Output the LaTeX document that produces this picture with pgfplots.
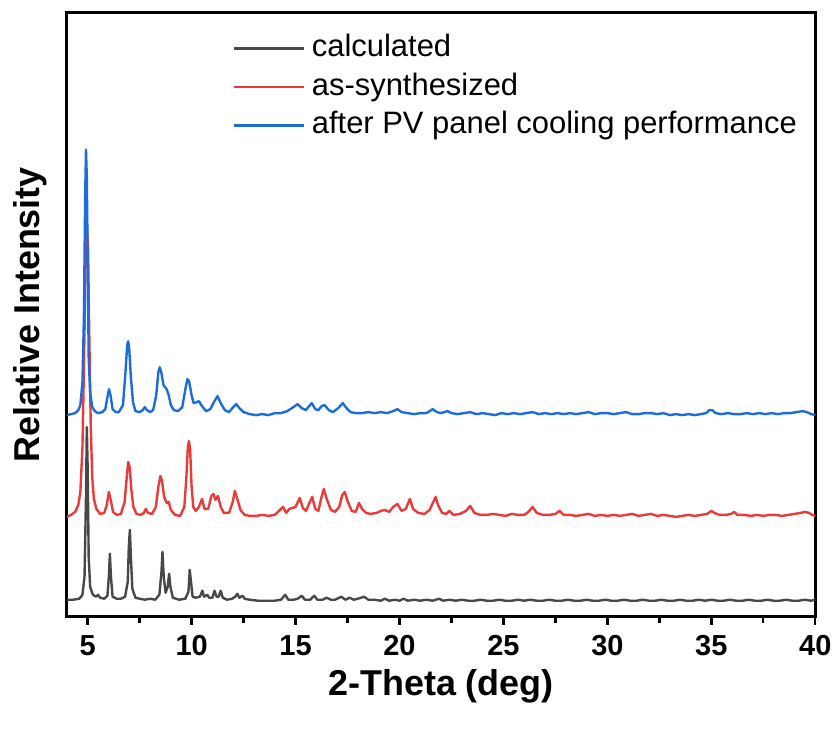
\documentclass[border=0pt]{standalone}
\usepackage{fontspec}
\setmainfont{Liberation Sans}
\usepackage{pgfplots}
\pgfplotsset{compat=1.18}
\definecolor{cgray}{RGB}{72,72,72}
\definecolor{cred}{RGB}{235,58,58}
\definecolor{cblue}{RGB}{28,108,222}
\begin{document}
\begin{tikzpicture}
\begin{axis}[
 scale only axis, width=375pt, height=302.5pt,
 xmin=4, xmax=40, ymin=0, ymax=605,
 xtick={5,10,...,40}, minor xtick={7.5,12.5,...,37.5},
 ytick=\empty,
 xtick pos=bottom, tick align=outside,
 major tick length=4pt, minor tick length=3pt,
 every tick/.style={black, line width=1.2pt},
 axis line style={line width=1.5pt},
 ticklabel style={font=\fontsize{14.5}{17}\selectfont\bfseries},
 xticklabel style={yshift=-2pt},
 /pgf/number format/assume math mode=true,
 xlabel={2-Theta (deg)}, ylabel={Relative Intensity},
 every axis x label/.style={at={(axis description cs:0.5,-0.1306)}, anchor=base, inner sep=0pt, font=\fontsize{18}{21}\selectfont\bfseries},
 every axis y label/.style={at={(axis description cs:-0.036,0.5)}, rotate=90, anchor=base, inner sep=0pt, font=\fontsize{18}{21}\selectfont\bfseries},
 legend style={at={(axis description cs:0.221,0.968)}, anchor=north west, draw=none, fill=none,
   inner sep=0pt, font=\fontsize{15.5}{18}\selectfont, row sep=3.3pt,
   nodes={inner sep=1pt, text height=11pt, text depth=3pt},
   /tikz/every odd column/.style={column sep=2.5pt}},
 legend cell align=left,
 legend image code/.code={\draw[#1, line width=1.2pt] (0pt,0pt) -- (35pt,0pt);},
 every axis plot/.append style={line width=1.2pt, line join=round},
 after end axis/.code={\useasboundingbox (rel axis cs:0,0) ++(-33.5pt,-56.5pt) rectangle ([shift={(10.5pt,6.5pt)}]rel axis cs:1,1);},
]
\addplot[cgray] coordinates {
(4.00,17)(4.30,17)(4.60,18)(4.75,22)(4.85,40)(4.92,120)(4.96,190)(5.00,150)(5.05,60)(5.12,30)
(5.25,22)(5.40,20)(5.50,22)(5.60,19)(5.80,18)(5.95,21)(6.02,40)(6.07,63)(6.12,40)(6.20,20)
(6.40,18)(6.60,18)(6.80,20)(6.93,35)(6.98,70)(7.03,87)(7.08,60)(7.15,28)(7.30,19)(7.50,18)
(7.75,17)(8.00,18)(8.25,17)(8.45,22)(8.55,45)(8.60,65)(8.66,40)(8.75,24)(8.85,30)(8.92,43)
(8.98,30)(9.10,19)(9.40,17)(9.70,18)(9.85,25)(9.91,47)(9.97,35)(10.05,20)(10.20,19)(10.40,20)
(10.52,26)(10.60,20)(10.75,22)(10.85,19)(11.00,19)(11.10,26)(11.20,20)(11.30,20)(11.40,26)(11.50,19)
(11.70,17)(11.95,18)(12.10,20)(12.20,23)(12.30,19)(12.45,21)(12.55,18)(12.80,17)(13.20,16)(13.60,16)
(14.00,16)(14.30,17)(14.50,22)(14.65,17)(14.90,17)(15.10,18)(15.30,21)(15.45,17)(15.70,17)(15.90,21)
(16.05,17)(16.30,17)(16.50,19)(16.70,17)(16.90,17)(17.20,20)(17.40,17)(17.60,19)(17.80,17)(18.00,18)
(18.30,20)(18.50,17)(18.80,17)(19.10,16)(19.30,18)(19.50,16)(19.80,17)(20.00,16)(20.20,18)(20.40,16)
(20.70,17)(21.00,16)(21.30,17)(21.60,16)(21.90,18)(22.10,16)(22.40,17)(22.70,16)(23.00,17)(23.30,16)
(23.60,16)(23.90,17)(24.20,16)(24.50,16)(24.80,17)(25.10,16)(25.40,16)(25.70,17)(26.00,16)(26.30,17)
(26.60,16)(26.90,16)(27.20,17)(27.50,16)(27.80,16)(28.10,17)(28.40,16)(28.70,16)(29.00,17)(29.30,16)
(29.60,16)(29.90,17)(30.20,16)(30.50,16)(30.80,17)(31.10,16)(31.40,16)(31.70,17)(32.00,16)(32.30,16)
(32.60,17)(32.90,16)(33.20,16)(33.50,17)(33.80,16)(34.10,16)(34.40,17)(34.70,16)(35.00,17)(35.30,16)
(35.60,16)(35.90,17)(36.20,16)(36.50,16)(36.80,17)(37.10,16)(37.40,16)(37.70,17)(38.00,16)(38.30,16)
(38.60,17)(38.90,16)(39.20,16)(39.50,17)(39.80,16)(40.00,17)
};
\addlegendentry{calculated}
\addplot[cred] coordinates {
(4.00,100)(4.20,102)(4.40,105)(4.55,112)(4.65,125)(4.75,170)(4.83,260)(4.90,350)(4.96,396)(5.02,370)
(5.08,280)(5.15,190)(5.22,140)(5.30,118)(5.42,108)(5.60,103)(5.80,104)(5.92,112)(6.02,125)(6.10,118)
(6.22,105)(6.40,102)(6.60,103)(6.78,115)(6.88,140)(6.95,155)(7.02,150)(7.10,128)(7.20,110)(7.35,103)
(7.55,102)(7.70,104)(7.80,108)(7.90,104)(8.10,103)(8.28,110)(8.40,130)(8.50,141)(8.58,136)(8.68,120)
(8.80,114)(8.90,115)(9.00,107)(9.20,102)(9.45,101)(9.65,110)(9.75,140)(9.82,170)(9.87,176)(9.93,168)
(10.00,130)(10.08,110)(10.20,106)(10.35,110)(10.50,118)(10.62,108)(10.80,108)(10.95,121)(11.05,123)(11.15,117)
(11.27,121)(11.40,110)(11.55,104)(11.80,104)(11.98,115)(12.08,126)(12.20,118)(12.35,107)(12.55,102)(12.80,101)
(13.10,101)(13.40,102)(13.70,101)(14.00,102)(14.20,106)(14.40,110)(14.55,104)(14.70,108)(14.85,109)(15.00,110)
(15.20,119)(15.35,109)(15.50,106)(15.65,113)(15.80,120)(15.95,108)(16.10,106)(16.25,120)(16.36,128)(16.50,118)
(16.70,107)(16.90,105)(17.10,110)(17.25,122)(17.37,125)(17.50,116)(17.70,106)(17.90,105)(18.05,114)(18.20,108)
(18.40,104)(18.60,103)(18.90,104)(19.10,106)(19.30,107)(19.50,105)(19.70,110)(19.90,113)(20.10,106)(20.30,108)
(20.50,118)(20.65,108)(20.90,104)(21.20,103)(21.45,107)(21.65,116)(21.74,120)(21.85,112)(22.05,104)(22.25,103)
(22.40,106)(22.60,102)(22.90,103)(23.20,106)(23.40,111)(23.60,104)(23.90,102)(24.20,102)(24.50,103)(24.80,102)
(25.10,101)(25.40,103)(25.70,102)(26.00,102)(26.20,105)(26.40,110)(26.60,104)(26.90,102)(27.20,102)(27.50,103)
(27.70,106)(27.90,102)(28.20,102)(28.50,101)(28.80,102)(29.10,103)(29.40,101)(29.70,102)(30.00,101)(30.30,102)
(30.60,101)(30.90,102)(31.20,103)(31.50,101)(31.80,102)(32.10,103)(32.40,101)(32.70,102)(33.00,101)(33.30,100)
(33.60,101)(33.90,102)(34.20,101)(34.50,102)(34.80,103)(35.00,106)(35.15,104)(35.40,102)(35.70,102)(35.95,103)
(36.10,105)(36.25,102)(36.60,102)(36.90,101)(37.20,102)(37.50,101)(37.80,102)(38.10,102)(38.40,101)(38.70,102)
(39.00,103)(39.30,104)(39.50,105)(39.70,104)(39.85,102)(40.00,101)
};
\addlegendentry{as-synthesized}
\addplot[cblue] coordinates {
(4.00,202)(4.20,203)(4.40,204)(4.55,207)(4.65,212)(4.75,235)(4.82,300)(4.88,420)(4.92,468)(4.96,440)
(5.00,360)(5.05,260)(5.12,225)(5.22,210)(5.35,206)(5.50,204)(5.70,205)(5.85,208)(5.95,220)(6.03,228)
(6.10,222)(6.20,208)(6.35,205)(6.50,205)(6.70,212)(6.82,245)(6.90,272)(6.95,276)(7.00,268)(7.08,240)
(7.18,215)(7.30,206)(7.50,205)(7.65,207)(7.75,210)(7.85,207)(8.00,205)(8.15,207)(8.30,222)(8.40,245)
(8.47,250)(8.55,244)(8.65,232)(8.80,228)(8.90,222)(9.00,212)(9.15,207)(9.35,206)(9.55,210)(9.70,228)
(9.80,238)(9.88,236)(10.00,222)(10.10,214)(10.25,215)(10.35,216)(10.50,211)(10.70,206)(10.90,208)(11.10,216)
(11.25,221)(11.40,214)(11.60,207)(11.80,205)(12.00,210)(12.15,213)(12.30,209)(12.50,205)(12.80,203)(13.10,202)
(13.40,203)(13.70,202)(14.00,204)(14.30,204)(14.60,206)(14.90,210)(15.10,213)(15.30,209)(15.50,207)(15.65,211)
(15.78,214)(15.95,208)(16.10,207)(16.25,211)(16.40,212)(16.60,207)(16.80,205)(17.05,209)(17.27,214)(17.45,209)
(17.65,205)(17.90,204)(18.20,204)(18.50,205)(18.80,204)(19.10,205)(19.40,204)(19.70,206)(19.90,208)(20.10,205)
(20.40,204)(20.70,203)(21.00,204)(21.30,204)(21.60,208)(21.80,205)(22.00,204)(22.30,206)(22.50,204)(22.80,203)
(23.10,204)(23.40,205)(23.70,203)(24.00,204)(24.30,203)(24.60,202)(24.90,204)(25.20,203)(25.50,204)(25.80,203)
(26.10,204)(26.40,205)(26.70,203)(27.00,204)(27.30,203)(27.60,204)(27.90,203)(28.20,204)(28.50,203)(28.80,204)
(29.10,205)(29.40,203)(29.70,204)(30.00,204)(30.30,203)(30.60,204)(30.90,205)(31.20,203)(31.50,203)(31.80,204)
(32.10,204)(32.40,203)(32.70,204)(33.00,202)(33.30,203)(33.60,202)(33.90,203)(34.20,202)(34.50,203)(34.75,204)
(34.90,207)(35.05,207)(35.20,204)(35.50,203)(35.80,204)(36.10,203)(36.40,203)(36.70,204)(37.00,203)(37.30,204)
(37.60,203)(37.90,204)(38.20,203)(38.50,204)(38.80,204)(39.10,205)(39.40,206)(39.60,205)(39.80,203)(40.00,202)
};
\addlegendentry{after PV panel cooling performance}
\end{axis}
\end{tikzpicture}
\end{document}
